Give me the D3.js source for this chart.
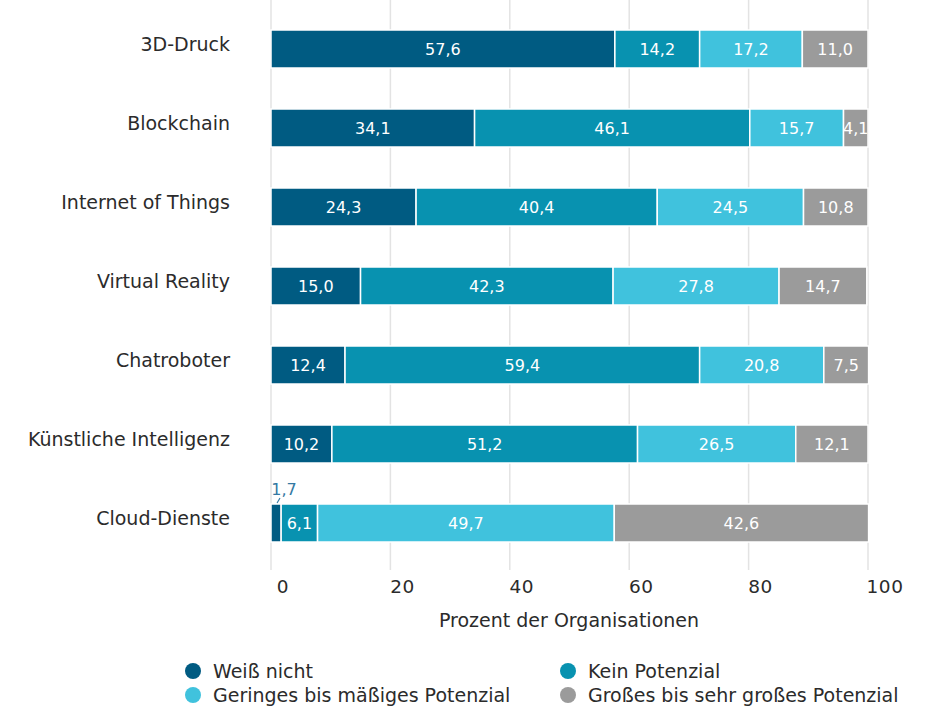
<!DOCTYPE html>
<html>
<head>
<meta charset="utf-8">
<script src="https://cdn.jsdelivr.net/npm/d3@7"></script>
<style>
  body { margin: 0; background: #fff; }
  text { font-family: "DejaVu Sans", sans-serif; }
</style>
</head>
<body>
<svg id="canvas"></svg>
<script>
const categories = ["3D-Druck", "Blockchain", "Internet of Things", "Virtual Reality",
  "Chatroboter", "Künstliche Intelligenz", "Cloud-Dienste"];
const seriesNames = ["Weiß nicht", "Kein Potenzial", "Geringes bis mäßiges Potenzial",
  "Großes bis sehr großes Potenzial"];
const weissNicht = [57.6, 34.1, 24.3, 15.0, 12.4, 10.2, 1.7];
const keinPotenzial = [14.2, 46.1, 40.4, 42.3, 59.4, 51.2, 6.1];
const geringes = [17.2, 15.7, 24.5, 27.8, 20.8, 26.5, 49.7];
const grosses = [11.0, 4.1, 10.8, 14.7, 7.5, 12.1, 42.6];
const xTicks = [0, 20, 40, 60, 80, 100];

const colors = ["#005b82", "#0892b0", "#40c2dd", "#9b9b9b"];
const width = 929, height = 709;

const svg = d3.select("#canvas").attr("width", width).attr("height", height);

const x = d3.scaleLinear().domain([0, 100]).range([271, 868]);
const y = d3.scaleBand().domain(categories).range([30, 542]).paddingInner(0.519).paddingOuter(0);

// build stacked rows
const rows = categories.map((c, i) => ({
  cat: c,
  vals: [weissNicht[i], keinPotenzial[i], geringes[i], grosses[i]]
}));

// grid
svg.append("g").selectAll("line")
  .data(xTicks).enter().append("line")
  .attr("x1", d => x(d)).attr("x2", d => x(d))
  .attr("y1", 0).attr("y2", 570)
  .attr("stroke", "#e3e3e3").attr("stroke-width", 1.5);

// tick labels
svg.append("g").selectAll("text")
  .data(xTicks).enter().append("text")
  .attr("x", d => x(d) + (d === 100 ? 17 : 12))
  .attr("y", 593)
  .attr("text-anchor", "middle")
  .attr("font-size", 18.5)
  .attr("letter-spacing", 0.5)
  .attr("fill", "#2b2b2b")
  .text(d => d);

svg.append("text")
  .attr("x", 569).attr("y", 627)
  .attr("text-anchor", "middle")
  .attr("font-size", 19).attr("fill", "#2b2b2b")
  .text("Prozent der Organisationen");

// category labels
svg.append("g").selectAll("text")
  .data(categories).enter().append("text")
  .attr("x", 230)
  .attr("y", d => y(d) + y.bandwidth() / 2 + 2)
  .attr("text-anchor", "end")
  .attr("font-size", 19).attr("fill", "#2b2b2b")
  .text(d => d);

// segments
const rowG = svg.append("g").selectAll("g")
  .data(rows).enter().append("g");

rowG.each(function (r) {
  let acc = 0;
  const segs = r.vals.map((v, k) => {
    const s = { v: v, k: k, x0: acc, x1: acc + v, cat: r.cat };
    acc += v;
    return s;
  });
  const g = d3.select(this);
  g.selectAll("rect").data(segs).enter().append("rect")
    .attr("x", d => x(d.x0))
    .attr("width", d => Math.max(0, x(d.x1) - x(d.x0)))
    .attr("y", y(r.cat))
    .attr("height", y.bandwidth())
    .attr("fill", d => colors[d.k])
    .attr("stroke", "#fff").attr("stroke-width", 1.5);

  g.selectAll("text").data(segs).enter().append("text")
    .attr("x", d => d.v < 3 ? x(d.x0) + 13 : x((d.x0 + d.x1) / 2))
    .attr("y", d => d.v < 3 ? y(r.cat) - 9 : y(r.cat) + y.bandwidth() / 2 + 6)
    .attr("text-anchor", "middle")
    .attr("font-size", 16)
    .attr("fill", d => d.v < 3 ? "#3479a3" : "#fff")
    .text(d => d3.format(".1f")(d.v).replace(".", ","));

  // leader line for the tiny segment
  segs.filter(d => d.v < 3).forEach(d => {
    g.append("line")
      .attr("x1", x((d.x0 + d.x1) / 2) + 1).attr("x2", x(d.x0) + 9)
      .attr("y1", y(r.cat) - 1).attr("y2", y(r.cat) - 6)
      .attr("stroke", "#3479a3").attr("stroke-width", 1.2);
  });
});

// legend
const legend = svg.append("g");
const legPos = [[193, 671], [568, 671], [193, 695], [568, 695]];
seriesNames.forEach((n, k) => {
  legend.append("circle")
    .attr("cx", legPos[k][0]).attr("cy", legPos[k][1])
    .attr("r", 8).attr("fill", colors[k]);
  legend.append("text")
    .attr("x", legPos[k][0] + 20).attr("y", legPos[k][1] + 7)
    .attr("font-size", 19).attr("fill", "#2b2b2b")
    .text(n);
});
</script>
</body>
</html>
